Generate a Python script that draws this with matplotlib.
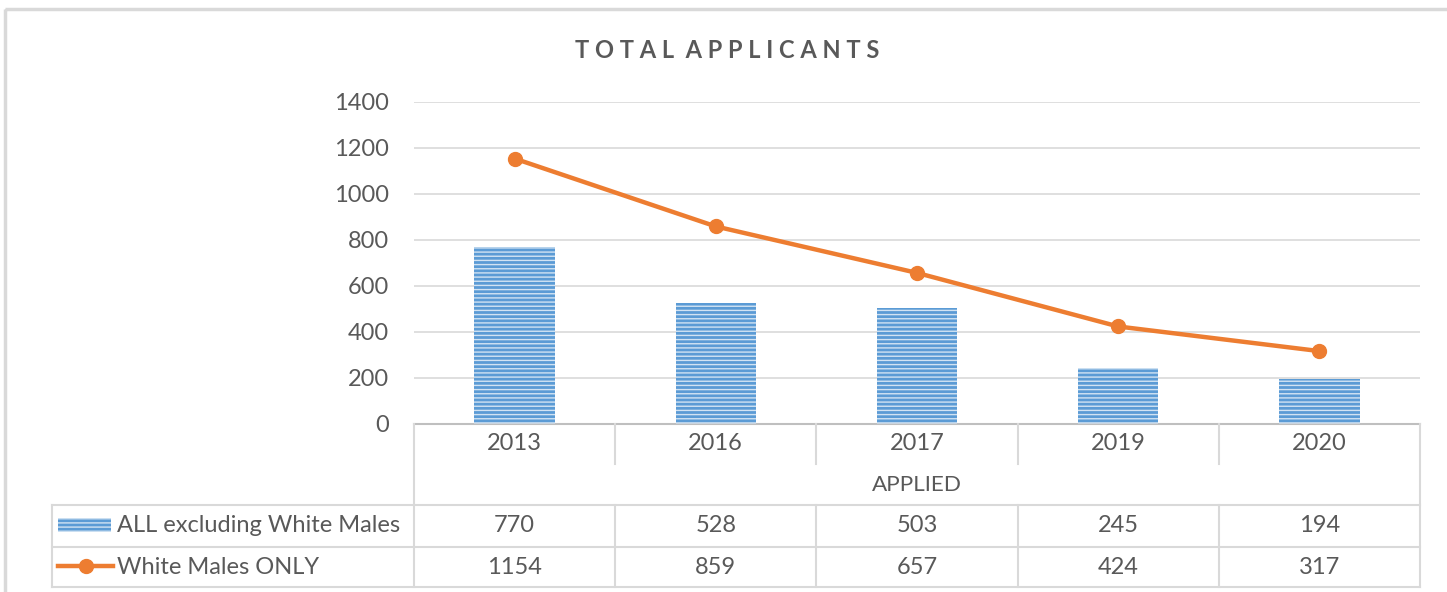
import matplotlib
matplotlib.use("Agg")
import matplotlib.pyplot as plt
from matplotlib.patches import Rectangle
from matplotlib.lines import Line2D
import numpy as np

plt.rcParams['font.family'] = ['Lato', 'DejaVu Sans']
plt.rcParams['hatch.linewidth'] = 1.0

years = ['2013', '2016', '2017', '2019', '2020']
all_excl = [770, 528, 503, 245, 194]
white_males = [1154, 859, 657, 424, 317]
series_names = ['ALL excluding White Males', 'White Males ONLY']
axis_title = 'APPLIED'
title = 'TOTAL APPLICANTS'

W, H = 1447, 592
blue = '#5B9BD5'
stripe = '#D2E3F3'
orange = '#ED7D31'
grid = '#D9D9D9'
txt = '#595959'
fs = 17

fig = plt.figure(figsize=(W / 100, H / 100), dpi=100)


def fx(x):
    return x / W


def fy(y):
    return 1 - y / H


# plot area
left, right, top, bottom = 414, 1420, 102, 424
ax = fig.add_axes([fx(left), fy(bottom), fx(right - left), fy(top) - fy(bottom)])
x = np.arange(len(years))
ax.bar(x, all_excl, width=0.4, color=blue, linewidth=0, zorder=2)
ax.bar(x, all_excl, width=0.4, facecolor='none', edgecolor=stripe, hatch='----',
       linewidth=0, zorder=3)
ax.plot(x, white_males, color=orange, lw=3.2, marker='o', ms=10, zorder=4)
ax.set_xlim(-0.5, len(years) - 0.5)
ax.set_ylim(0, 1400)
ax.set_yticks(range(0, 1401, 200))
ax.yaxis.grid(True, color=grid, lw=1.2, zorder=0)
ax.set_xticks([])
ax.tick_params(axis='y', length=0, labelsize=fs, labelcolor=txt, pad=18)
for s in ['top', 'right', 'left']:
    ax.spines[s].set_visible(False)
ax.spines['bottom'].set_color('#BFBFBF')
ax.spines['bottom'].set_linewidth(1.5)

# overlay for table, border, title
ov = fig.add_axes([0, 0, 1, 1])
ov.set_xlim(0, W)
ov.set_ylim(H, 0)
ov.axis('off')

ov.add_patch(Rectangle((5, 9), W + 20, H + 20, fill=False, edgecolor=grid, lw=2.5))
spaced = '  '.join(' '.join(w) for w in title.split())
ov.text(727, 50, spaced, ha='center', va='center', fontsize=17, fontweight='bold', color=txt)

tcol = '#D9D9D9'
colw = (right - left) / len(years)
bounds = [left + i * colw for i in range(len(years) + 1)]
rows = [424, 464, 505, 547, 587]
# horizontal lines
for y in rows[2:]:
    ov.plot([52, right], [y, y], color=tcol, lw=1.5)
# vertical lines
ov.plot([left, left], [424, 587], color=tcol, lw=1.5)
ov.plot([right, right], [424, 587], color=tcol, lw=1.5)
ov.plot([52, 52], [505, 587], color=tcol, lw=1.5)
for b in bounds[1:-1]:
    ov.plot([b, b], [424, 464], color=tcol, lw=1.5)
    ov.plot([b, b], [505, 587], color=tcol, lw=1.5)

centers = [(bounds[i] + bounds[i + 1]) / 2 for i in range(len(years))]
for c, yr in zip(centers, years):
    ov.text(c, 443, yr, ha='center', va='center', fontsize=fs, color=txt)
ov.text((left + right) / 2, 485, axis_title, ha='center', va='center', fontsize=fs - 0.8, color=txt)
for c, v1, v2 in zip(centers, all_excl, white_males):
    ov.text(c, 526, str(v1), ha='center', va='center', fontsize=fs, color=txt)
    ov.text(c, 567, str(v2), ha='center', va='center', fontsize=fs, color=txt)

# legend keys
ov.add_patch(Rectangle((58, 518), 53, 14, facecolor=blue, lw=0))
ov.add_patch(Rectangle((58, 518), 53, 14, facecolor='none', edgecolor=stripe, hatch='----', lw=0))
ov.add_line(Line2D([58, 85.5, 113], [566, 566, 566], color=orange, lw=3.2,
                   marker='o', ms=10, markevery=[1]))
ov.text(117, 526, series_names[0], ha='left', va='center', fontsize=fs, color=txt)
ov.text(117, 567, series_names[1], ha='left', va='center', fontsize=fs, color=txt)

fig.savefig('out.png', dpi=100)
